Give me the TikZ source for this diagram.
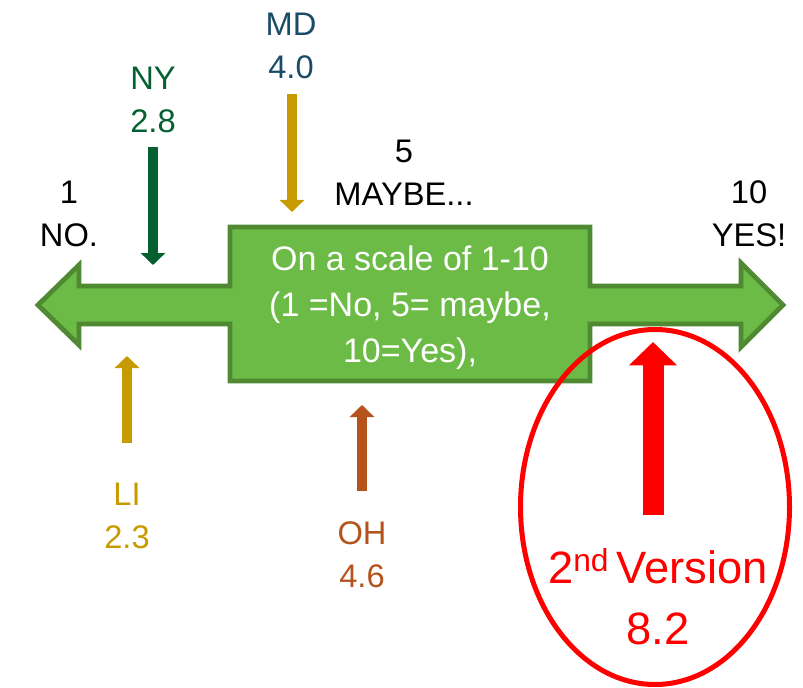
\documentclass[tikz,border=0pt]{standalone}
\usepackage{fontspec}
\setmainfont{Liberation Sans}
\usetikzlibrary{arrows.meta}

\definecolor{barfill}{RGB}{108,187,70}
\definecolor{barline}{RGB}{79,138,51}
\definecolor{nygreen}{RGB}{4,96,48}
\definecolor{mdblue}{RGB}{26,76,104}
\definecolor{gold}{RGB}{199,155,0}
\definecolor{ohbrown}{RGB}{180,84,28}
\definecolor{hotred}{RGB}{255,0,0}

\tikzset{
  endlabel/.style={text=black, align=center, font=\fontsize{24.5}{32}\selectfont},
  statelabel/.style={align=center, font=\fontsize{24.5}{32}\selectfont},
  pointer/.style={line width=8pt, -{Triangle[width=18pt,length=9pt]}},
  bigpointer/.style={line width=15.75pt, draw=hotred, -{Triangle[width=35pt,length=17.5pt]}},
}

\begin{document}
\begin{tikzpicture}[x=0.75pt, y=-0.75pt]
\useasboundingbox (0,0) rectangle (803,688);

% two-headed scale bar with the central text panel
\draw[fill=barfill, draw=barline, line width=3.6pt, line join=miter]
  (38,305) -- (79,265) -- (79,286) -- (230,286) -- (230,227) -- (590,227)
  -- (590,286) -- (741,286) -- (741,263) -- (783,305) -- (741,347)
  -- (741,324) -- (590,324) -- (590,381) -- (230,381) -- (230,324)
  -- (79,324) -- (79,345) -- cycle;

\node[text=white, align=center, font=\fontsize{25.5}{34.5}\selectfont] (panel) at (410,308)
  {On a scale of 1-10\\(1 =No, 5= maybe,\\10=Yes),};

% scale end and middle labels
\node[endlabel] (no) at (69,214) {1\\NO.};
\node[endlabel] (maybe) at (404,173) {5\\MAYBE...};
\node[endlabel] (yes) at (749,214) {10\\YES!};

% state scores
\node[statelabel, text=nygreen] (ny) at (153,100) {NY\\2.8};
\node[statelabel, text=mdblue] (md) at (291,46) {MD\\4.0};
\node[statelabel, text=gold] (li) at (127,516) {LI\\2.3};
\node[statelabel, text=ohbrown] (oh) at (362,555) {OH\\4.6};

% pointer end points
\coordinate (nyA) at (153,147);
\coordinate (nyB) at (153,265);
\coordinate (mdA) at (292,94);
\coordinate (mdB) at (292,212);
\coordinate (liA) at (127,443);
\coordinate (liB) at (127,356);
\coordinate (ohA) at (362,491);
\coordinate (ohB) at (362,405);

\draw[pointer, draw=nygreen, fill=nygreen] (nyA) -- (nyB);
\draw[pointer, draw=gold, fill=gold] (mdA) -- (mdB);
\draw[pointer, draw=gold, fill=gold] (liA) -- (liB);
\draw[pointer, draw=ohbrown, fill=ohbrown] (ohA) -- (ohB);

% highlighted second version
\draw[draw=hotred, line width=3.75pt] (655,507) ellipse [x radius=134.5, y radius=177.5];

\node[text=hotred, align=center, font=\fontsize{34}{46}\selectfont] (second) at (658,597)
  {2\textsuperscript{nd}\,Version\\8.2};

\coordinate (redA) at (653,515);
\coordinate (redB) at (653,342);
\draw[bigpointer, fill=hotred] (redA) -- (redB);
\end{tikzpicture}
\end{document}
